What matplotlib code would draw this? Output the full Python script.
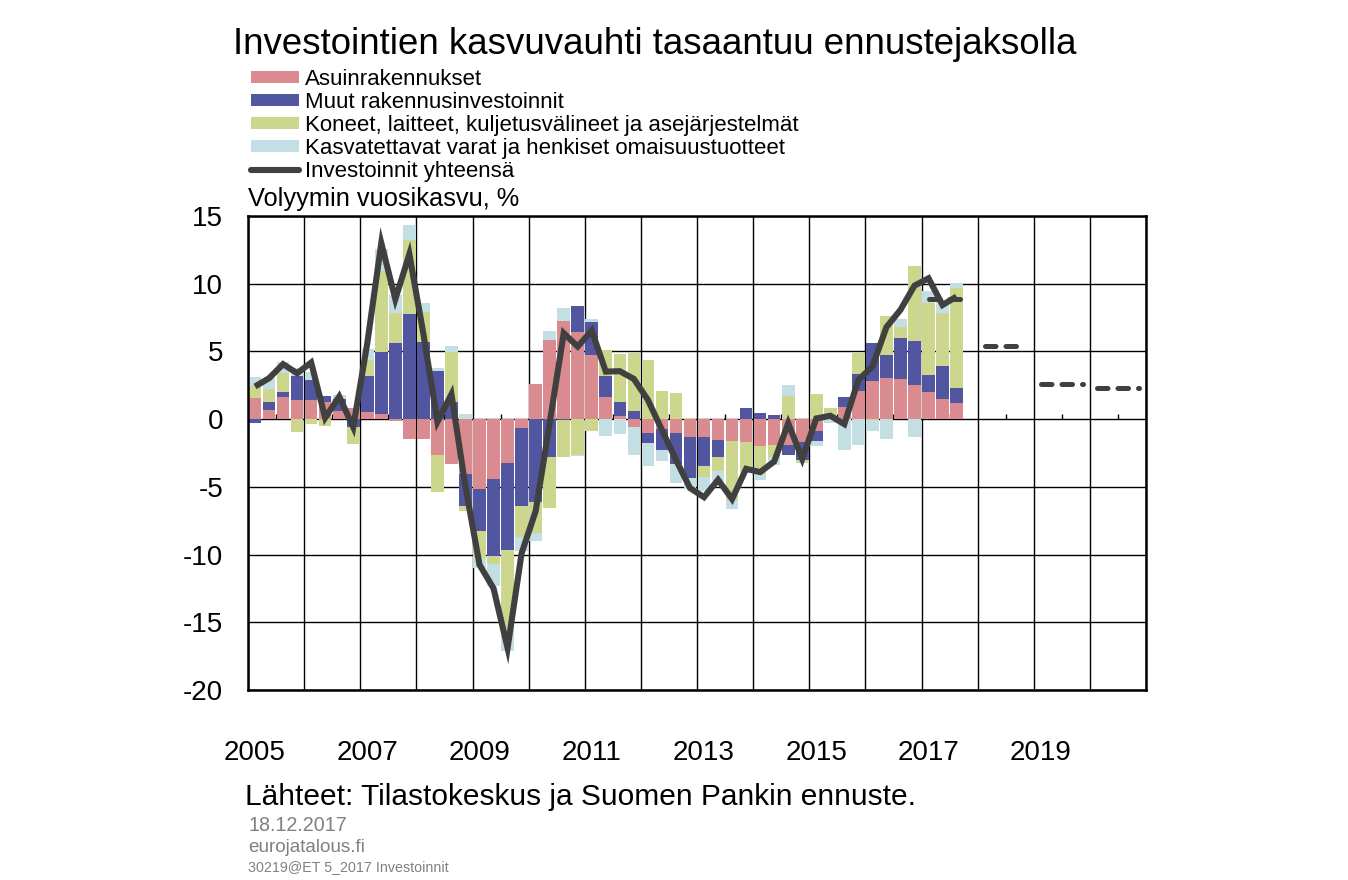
import numpy as np
import matplotlib
matplotlib.use("Agg")
import matplotlib.pyplot as plt
from matplotlib.patches import Patch
from matplotlib.lines import Line2D

plt.rcParams['font.family'] = ['Liberation Sans', 'DejaVu Sans']
plt.rcParams['axes.unicode_minus'] = False

# ---------------- data (quarterly, 2005Q1 - 2017Q3) ----------------
start_year = 2005
asuin = [1.57, 0.69, 1.65, 1.42, 1.42, 1.28, 0.61, 0.83,
         0.54, 0.39, -0.12, -1.45, -1.45, -2.63, -3.3, -4.04,
         -5.14, -4.4, -3.23, -0.64, 2.6, 5.85, 7.26, 6.44,
         4.75, 1.6, 0.2, -0.57, -1.06, -0.71, -1.01, -1.3,
         -1.3, -1.53, -1.6, -1.67, -1.97, -1.89, -1.94, -1.67,
         -0.86, 0.05, 0.93, 2.09, 2.83, 3.05, 2.98, 2.53,
         2.02, 1.5, 1.21]
muut = [-0.32, 0.59, 0.37, 1.77, 1.48, 0.44, 0.86, -0.61,
        2.68, 4.58, 5.63, 7.8, 5.7, 3.56, 1.23, -2.36,
        -3.1, -5.67, -6.42, -5.81, -6.1, -2.78, -0.1, 1.92,
        2.43, 1.62, 1.03, 0.62, -0.69, -1.55, -2.29, -3.08,
        -2.14, -1.25, 0.0, 0.84, 0.47, 0.32, -0.74, -1.33,
        -0.79, 0.0, 0.72, 1.26, 2.8, 1.7, 3.02, 3.25,
        1.25, 2.44, 1.1]
koneet = [0.89, 0.96, 1.38, -0.98, -0.39, -0.54, 0.0, -1.26,
          1.18, 6.0, 2.21, 5.46, 2.24, -2.78, 3.74, -0.37,
          -2.02, -0.61, -5.77, -2.28, -2.34, -3.8, -2.68, -2.68,
          -0.84, 1.89, 3.59, 4.3, 4.38, 2.09, 1.94, 0.12,
          -0.81, -1.03, -4.35, -2.19, -2.09, -0.94, 1.72, -0.27,
          1.87, 0.76, 0.0, 1.55, -0.1, 2.88, 0.81, 5.56,
          5.32, 3.91, 7.38]
kasvat = [0.66, 0.83, 0.84, 0.57, 0.57, 0.0, 0.3, 0.0,
          0.81, 1.6, 1.33, 1.08, 0.64, 0.2, 0.44, 0.39,
          -0.74, -1.62, -1.73, -0.97, -0.59, 0.66, 0.96, -0.05,
          0.25, -1.21, -1.08, -2.11, -1.7, -0.81, -1.45, -0.76,
          -1.08, -0.79, -0.67, -0.1, -0.42, -0.54, 0.81, 0.0,
          -0.32, -0.32, -2.26, -1.94, -0.79, -1.45, 0.59, -1.35,
          0.88, 0.83, 0.37]
yhteensa = [2.41, 3.02, 4.06, 3.39, 4.18, 0.1, 1.67, -0.59,
            5.6, 13.0, 8.86, 12.18, 6.3, -0.2, 1.84, -5.0,
            -10.75, -12.5, -16.9, -9.9, -6.8, -0.3, 6.35, 5.36,
            6.54, 3.51, 3.54, 2.97, 1.42, -0.8, -3.0, -5.09,
            -5.76, -4.48, -5.9, -3.67, -3.91, -3.13, -0.3, -2.93,
            0.05, 0.25, -0.37, 2.9, 3.88, 6.79, 8.07, 9.86,
            10.4, 8.43, 9.05]
forecast_years = [2017, 2018, 2019, 2020]
forecast_values = [8.9, 5.4, 2.6, 2.3]

series_names = ["Asuinrakennukset",
                "Muut rakennusinvestoinnit",
                "Koneet, laitteet, kuljetusvälineet ja asejärjestelmät",
                "Kasvatettavat varat ja henkiset omaisuustuotteet"]
line_name = "Investoinnit yhteensä"
colors = ["#D98B8F", "#5256A0", "#CCD68C", "#C3DFE3"]
line_color = "#404040"

title = "Investointien kasvuvauhti tasaantuu ennustejaksolla"
ylabel = "Volyymin vuosikasvu, %"
source = "Lähteet: Tilastokeskus ja Suomen Pankin ennuste."
date_txt = "18.12.2017"
site_txt = "eurojatalous.fi"
code_txt = "30219@ET 5_2017 Investoinnit"
year_labels = [2005, 2007, 2009, 2011, 2013, 2015, 2017, 2019]

# ---------------- figure ----------------
W, H = 1348, 880
fig = plt.figure(figsize=(W / 100, H / 100), dpi=100)
ax = fig.add_axes([248 / W, 1 - 690 / H, (1146 - 248) / W, (690 - 216) / H])

n = len(asuin)
x = start_year + (np.arange(n) + 0.5) / 4.0
bw = 0.225

pos_bottom = np.zeros(n)
neg_bottom = np.zeros(n)
for vals, c in zip([asuin, muut, koneet, kasvat], colors):
    v = np.array(vals, dtype=float)
    bottoms = np.where(v >= 0, pos_bottom, neg_bottom)
    ax.bar(x, v, width=bw, bottom=bottoms, color=c, linewidth=0, zorder=2)
    pos_bottom = pos_bottom + np.where(v > 0, v, 0)
    neg_bottom = neg_bottom + np.where(v < 0, v, 0)

ax.plot(x, yhteensa, color=line_color, lw=4.4, solid_joinstyle='miter',
        solid_capstyle='butt', zorder=4)

for yr, val in zip(forecast_years, forecast_values):
    ax.plot([yr + 0.13, yr + 0.87], [val, val], color=line_color, lw=3.6,
            dashes=(2.1, 2.0), dash_capstyle='round', zorder=4)

# small category-axis ticks on the zero line (mid-year)
mid = np.arange(2005.5, 2021, 1.0)
ax.vlines(mid, 0, 0.4, color='black', lw=1.0, zorder=1)

ax.set_xlim(2005, 2021)
ax.set_ylim(-20, 15)
ax.set_yticks(np.arange(-20, 16, 5))
ax.set_yticklabels([str(v) for v in range(-20, 16, 5)])
ax.set_xticks(np.arange(2005, 2022, 1))
ax.set_xticklabels([])
ax.set_xticks([y + 0.125 for y in year_labels], minor=True)
ax.set_xticklabels([str(y) for y in year_labels], minor=True)
ax.tick_params(axis='both', which='both', length=0)
ax.tick_params(axis='y', labelsize=20, pad=18)
ax.tick_params(axis='x', which='minor', labelsize=20, pad=36)
ax.grid(True, which='major', color='black', lw=1.0, zorder=0)
ax.set_axisbelow(True)
for s in ax.spines.values():
    s.set_linewidth(1.8)
    s.set_color('black')

# legend
handles = [Patch(facecolor=c, edgecolor='none') for c in colors]
handles.append(Line2D([0], [0], color=line_color, lw=4.4, solid_capstyle='round'))
fig.legend(handles, series_names + [line_name], loc='upper left',
           bbox_to_anchor=(251 / W, 1 - 69 / H), frameon=False,
           fontsize=16, handlelength=2.15, handleheight=0.5,
           handletextpad=0.3, labelspacing=0.09, borderpad=0,
           borderaxespad=0)

fig.text(655 / W, 1 - 45 / H, title, ha='center', va='center', fontsize=26.4)
fig.text(248 / W, 1 - 199 / H, ylabel, ha='left', va='center', fontsize=18.3)
fig.text(245 / W, 1 - 797 / H, source, ha='left', va='center', fontsize=21.5)
fig.text(248 / W, 1 - 825 / H, date_txt, ha='left', va='center', fontsize=14.2,
         color='#808080')
fig.text(248 / W, 1 - 847 / H, site_txt, ha='left', va='center', fontsize=13.6,
         color='#808080')
fig.text(248 / W, 1 - 867 / H, code_txt, ha='left', va='center', fontsize=10.3,
         color='#808080')

fig.savefig("out.png", dpi=100)
